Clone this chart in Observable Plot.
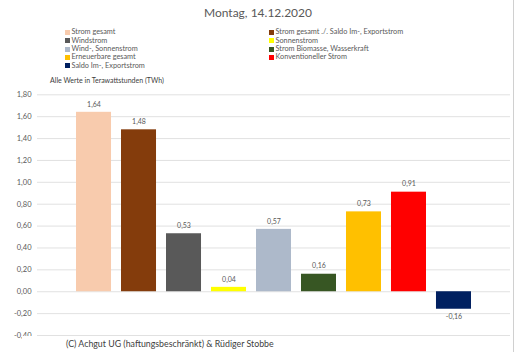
<!DOCTYPE html>
<html>
<head>
<meta charset="utf-8">
<script src="https://cdn.jsdelivr.net/npm/d3@7"></script>
<script src="https://cdn.jsdelivr.net/npm/@observablehq/plot@0.6"></script>
<style>
  html, body { margin: 0; padding: 0; background: #fff; }
  #wrap { position: relative; width: 516px; height: 356px; overflow: hidden; font-family: Lato, "Open Sans", sans-serif; }
  #border { position: absolute; left: 513px; top: 0; width: 1px; height: 352px; background: #d0d0d0; }
  #header { position: relative; width: 516px; height: 80px; }
  #title { position: absolute; left: 0; width: 516px; top: 5px; text-align: center; font-size: 12px; color: #595959; }
  .leg { position: absolute; font-size: 7.3px; color: #595959; white-space: nowrap; line-height: 8px; }
  .leg span.sw { display: inline-block; width: 5px; height: 5px; margin-right: 1.5px; vertical-align: -0.5px; }
  #unit { position: absolute; left: 50px; top: 76px; font-size: 7px; color: #404040; white-space: nowrap; }
  #caption { position: absolute; left: 22px; top: 336px; width: 278px; height: 20px; background: #fff; font-size: 8.8px; color: #404040; }
  #caption div { position: absolute; left: 44px; top: 1.5px; white-space: nowrap; }
  svg { display: block; }
</style>
</head>
<body>
<div id="wrap">
  <div id="header">
    <div id="title">Montag, 14.12.2020</div>
    <div id="legend"></div>
    <div id="unit">Alle Werte in Terawattstunden (TWh)</div>
  </div>
  <div id="chart"></div>
  <div id="caption"><div>(C) Achgut UG (haftungsbeschränkt) &amp; Rüdiger Stobbe</div></div>
  <div id="border"></div>
</div>
<script>
const categories = [
  "Strom gesamt",
  "Strom gesamt ./. Saldo Im-, Exportstrom",
  "Windstrom",
  "Sonnenstrom",
  "Wind-, Sonnenstrom",
  "Strom Biomasse, Wasserkraft",
  "Erneuerbare gesamt",
  "Konventioneller Strom",
  "Saldo Im-, Exportstrom"
];
const values = [1.64, 1.48, 0.53, 0.04, 0.57, 0.16, 0.73, 0.91, -0.16];
const colors = ["#f8cbad", "#843c0c", "#595959", "#ffff00", "#adb9ca", "#375623", "#ffc000", "#ff0000", "#002060"];
const yTicks = [-0.4, -0.2, 0, 0.2, 0.4, 0.6, 0.8, 1.0, 1.2, 1.4, 1.6, 1.8];
const legendOrder = [0, 1, 2, 3, 4, 5, 6, 7, 8];

const data = categories.map((c, i) => ({cat: c, value: values[i], color: colors[i]}));
const fmt = v => d3.format(".2f")(v).replace(".", ",").replace("\u2212", "-");

// legend (two columns, Excel style)
const legend = document.getElementById("legend");
legendOrder.forEach((idx, k) => {
  const col = k % 2, row = Math.floor(k / 2);
  const d = document.createElement("div");
  d.className = "leg";
  d.style.left = (col === 0 ? 65 : 269) + "px";
  d.style.top = (28.3 + row * 8.35) + "px";
  d.innerHTML = `<span class="sw" style="background:${colors[idx]}"></span>${categories[idx]}`;
  legend.appendChild(d);
});

const chart = Plot.plot({
  width: 516,
  height: 276,
  marginLeft: 37,
  marginRight: 6,
  marginTop: 14.3,
  marginBottom: 21,
  style: {fontFamily: "Lato, 'Open Sans', sans-serif", background: "#fff"},
  x: {domain: categories, paddingInner: 0.222, paddingOuter: 0.867, align: 0.5, round: false, axis: null},
  y: {domain: [-0.4, 1.8]},
  marks: [
    Plot.ruleY(yTicks, {stroke: "#d9d9d9", strokeWidth: 0.8}),
    Plot.axisY(yTicks, {tickSize: 0, tickPadding: 6, tickFormat: fmt, fontSize: 7.5, color: "#595959", label: null}),
    Plot.barY(data, {x: "cat", y: "value", fill: "color"}),
    Plot.text(data.filter(d => d.value >= 0), {x: "cat", y: "value", text: d => fmt(d.value), dy: -8, fontSize: 7, fill: "#595959"}),
    Plot.text(data.filter(d => d.value < 0), {x: "cat", y: "value", text: d => fmt(d.value), dy: 8, fontSize: 7, fill: "#595959"})
  ]
});
document.getElementById("chart").appendChild(chart);
</script>
</body>
</html>
